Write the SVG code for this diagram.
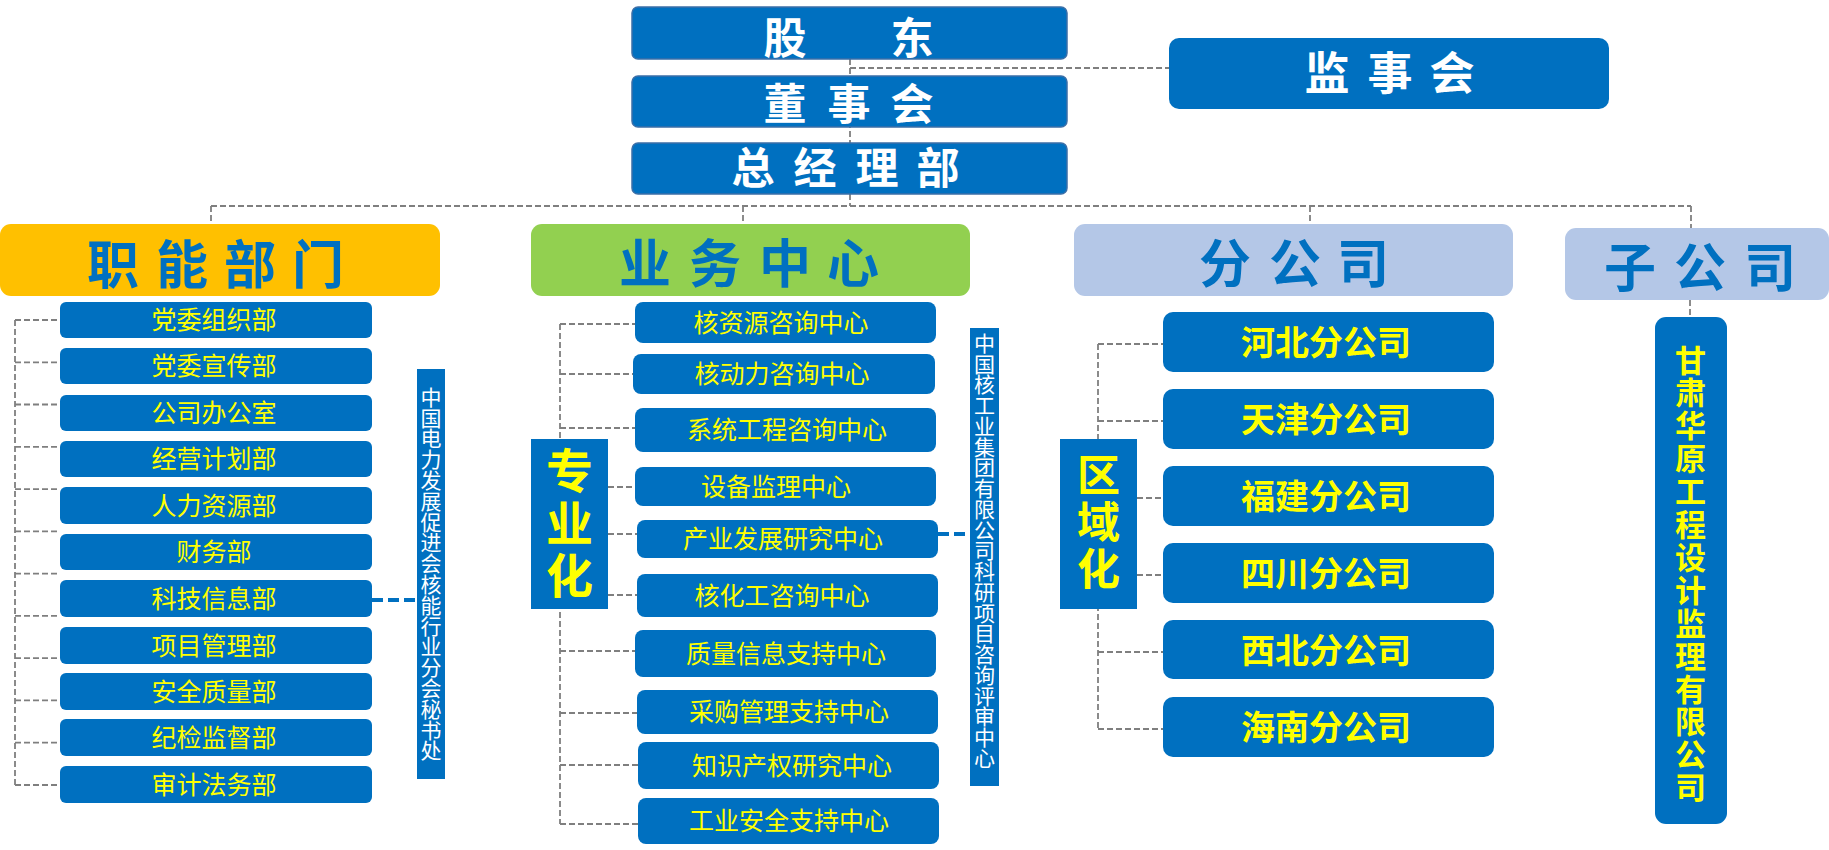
<svg xmlns="http://www.w3.org/2000/svg" width="1829" height="850" viewBox="0 0 1829 850">
<style>
text{font-family:"Noto Sans CJK SC","Noto Sans",sans-serif;}
.top{fill:#0070C0;stroke:#3B6FA8;stroke-width:1.5;}
.blue{fill:#0070C0;}
.ht{fill:#FFFFFF;font-weight:700;font-size:43px;text-anchor:middle;}
.hd{fill:#0070C0;font-weight:700;font-size:52px;text-anchor:middle;}
.sm{fill:#FFFF00;font-size:25px;text-anchor:middle;}
.br{fill:#FFFF00;font-weight:700;font-size:34px;text-anchor:middle;}
.vl{fill:#FFFFFF;font-size:21px;text-anchor:middle;}
.dash{fill:none;stroke:#7F7F7F;stroke-width:1.8;stroke-dasharray:6 3;}
.thick{fill:none;stroke:#0070C0;stroke-width:4;stroke-dasharray:11 5;}
</style>

<g id="connectors">
<path class="dash" d="M850 59V206M850 68H1169M211 206H1691M211 206V224M743 206V224M1310 206V224M1691 206V228M1690 300V317"/>
<path class="dash" d="M15 320V785M15 320H60M15 362.3H60M15 404.5H60M15 446.8H60M15 489.1H60M15 531.4H60M15 573.6H60M15 615.9H60M15 658.2H60M15 700.4H60M15 742.7H60M15 785H60"/>
<path class="dash" d="M560 324V824M560 324H635M560 374H633M560 428H635M608 487H635M608 534H637M608 595H637M560 651H635M560 713H637M560 765H638M560 824H638"/>
<path class="dash" d="M1098 344V729M1098 344H1163M1098 421H1163M1137 498H1163M1137 575H1163M1098 652H1163M1098 729H1163"/>
<path class="thick" d="M372 600H417M938 534H970"/>
</g>

<g id="gudong"><rect class="top" x="632" y="7" width="435" height="52" rx="6"/><text class="ht" x="785 912" y="54">股东</text></g>
<g id="dongshihui"><rect class="top" x="632" y="76" width="435" height="51" rx="6"/><text class="ht" x="785 849 912" y="120">董事会</text></g>
<g id="zongjinglibu"><rect class="top" x="632" y="143" width="435" height="51" rx="6"/><text class="ht" x="753 815 877 938" y="184">总经理部</text></g>
<g id="jianshihui"><rect class="blue" x="1169" y="38" width="440" height="71" rx="10"/><text class="ht" style="font-size:45px" x="1327 1390 1452" y="89.5">监事会</text></g>

<g id="zhineng"><rect x="0" y="224" width="440" height="72" rx="11" fill="#FFC000"/><text class="hd" x="113 182 250 318" y="284">职能部门</text></g>
<g id="yewu"><rect x="531" y="224" width="439" height="72" rx="11" fill="#92D050"/><text class="hd" x="645 715 785 853" y="283">业务中心</text></g>
<g id="fengongsi"><rect x="1074" y="224" width="439" height="72" rx="11" fill="#B4C7E7"/><text class="hd" x="1225 1295 1363" y="283">分公司</text></g>
<g id="zigongsi"><rect x="1565" y="228" width="264" height="72" rx="11" fill="#B4C7E7"/><text class="hd" x="1630 1700 1770" y="286.5">子公司</text></g>

<g id="d1"><rect class="blue" x="60" y="302" width="312" height="36" rx="6"/><text class="sm" x="214" y="329">党委组织部</text></g>
<g id="d2"><rect class="blue" x="60" y="348" width="312" height="36" rx="6"/><text class="sm" x="214" y="375">党委宣传部</text></g>
<g id="d3"><rect class="blue" x="60" y="395" width="312" height="36" rx="6"/><text class="sm" x="214" y="422">公司办公室</text></g>
<g id="d4"><rect class="blue" x="60" y="441" width="312" height="36" rx="6"/><text class="sm" x="214" y="468">经营计划部</text></g>
<g id="d5"><rect class="blue" x="60" y="487" width="312" height="37" rx="6"/><text class="sm" x="214" y="514.5">人力资源部</text></g>
<g id="d6"><rect class="blue" x="60" y="534" width="312" height="36" rx="6"/><text class="sm" x="214" y="561">财务部</text></g>
<g id="d7"><rect class="blue" x="60" y="580" width="312" height="37" rx="6"/><text class="sm" x="214" y="607.5">科技信息部</text></g>
<g id="d8"><rect class="blue" x="60" y="627" width="312" height="37" rx="6"/><text class="sm" x="214" y="654.5">项目管理部</text></g>
<g id="d9"><rect class="blue" x="60" y="673" width="312" height="37" rx="6"/><text class="sm" x="214" y="700.5">安全质量部</text></g>
<g id="d10"><rect class="blue" x="60" y="719" width="312" height="37" rx="6"/><text class="sm" x="214" y="746.5">纪检监督部</text></g>
<g id="d11"><rect class="blue" x="60" y="766" width="312" height="37" rx="6"/><text class="sm" x="214" y="793.5">审计法务部</text></g>

<g id="label1"><rect class="blue" x="417" y="369" width="28" height="410"/><text class="vl" x="431 431 431 431 431 431 431 431 431 431 431 431 431 431 431 431 431 431" y="404.8 425.6 446.4 467.2 488 508.8 529.6 550.4 571.2 592 612.8 633.6 654.4 675.2 696 716.8 737.6 758.4">中国电力发展促进会核能行业分会秘书处</text></g>

<g id="zhuanyehua"><rect class="blue" x="531" y="439" width="77" height="170"/><text style="fill:#FFFF00;font-weight:700;font-size:47px;text-anchor:middle" x="569.5 569.5 569.5" y="487.5 540.5 592.5">专业化</text></g>

<g id="c1"><rect class="blue" x="635" y="302" width="301" height="41" rx="8"/><text class="sm" x="781" y="331.5">核资源咨询中心</text></g>
<g id="c2"><rect class="blue" x="633" y="354" width="302" height="40" rx="8"/><text class="sm" x="782" y="383">核动力咨询中心</text></g>
<g id="c3"><rect class="blue" x="635" y="408" width="301" height="44" rx="8"/><text class="sm" x="787" y="439">系统工程咨询中心</text></g>
<g id="c4"><rect class="blue" x="635" y="467" width="301" height="39" rx="8"/><text class="sm" x="776" y="495.5">设备监理中心</text></g>
<g id="c5"><rect class="blue" x="637" y="520" width="301" height="38" rx="8"/><text class="sm" x="783" y="548">产业发展研究中心</text></g>
<g id="c6"><rect class="blue" x="637" y="574" width="301" height="43" rx="8"/><text class="sm" x="782" y="604.5">核化工咨询中心</text></g>
<g id="c7"><rect class="blue" x="635" y="630" width="301" height="47" rx="8"/><text class="sm" x="786" y="662.5">质量信息支持中心</text></g>
<g id="c8"><rect class="blue" x="637" y="690" width="301" height="44" rx="8"/><text class="sm" x="789" y="721">采购管理支持中心</text></g>
<g id="c9"><rect class="blue" x="638" y="742" width="301" height="47" rx="8"/><text class="sm" x="792" y="774.5">知识产权研究中心</text></g>
<g id="c10"><rect class="blue" x="638" y="798" width="301" height="46" rx="8"/><text class="sm" x="789" y="830">工业安全支持中心</text></g>

<g id="label2"><rect class="blue" x="970" y="328" width="29" height="458"/><text class="vl" x="984.5 984.5 984.5 984.5 984.5 984.5 984.5 984.5 984.5 984.5 984.5 984.5 984.5 984.5 984.5 984.5 984.5 984.5 984.5 984.5 984.5" y="350.8 371.55 392.3 413.05 433.8 454.55 475.3 496.05 516.8 537.55 558.3 579.05 599.8 620.55 641.3 662.05 682.8 703.55 724.3 745.05 765.8">中国核工业集团有限公司科研项目咨询评审中心</text></g>

<g id="quyuhua"><rect class="blue" x="1060" y="439" width="77" height="170"/><text style="fill:#FFFF00;font-weight:700;font-size:43px;text-anchor:middle" x="1098.5 1098.5 1098.5" y="491 538 585">区域化</text></g>

<g id="b1"><rect class="blue" x="1163" y="312" width="331" height="60" rx="10"/><text class="br" x="1326" y="354.5">河北分公司</text></g>
<g id="b2"><rect class="blue" x="1163" y="389" width="331" height="60" rx="10"/><text class="br" x="1326" y="431.5">天津分公司</text></g>
<g id="b3"><rect class="blue" x="1163" y="466" width="331" height="60" rx="10"/><text class="br" x="1326" y="508.5">福建分公司</text></g>
<g id="b4"><rect class="blue" x="1163" y="543" width="331" height="60" rx="10"/><text class="br" x="1326" y="585.5">四川分公司</text></g>
<g id="b5"><rect class="blue" x="1163" y="620" width="331" height="59" rx="10"/><text class="br" x="1326" y="662.5">西北分公司</text></g>
<g id="b6"><rect class="blue" x="1163" y="697" width="331" height="60" rx="10"/><text class="br" x="1326" y="739.5">海南分公司</text></g>

<g id="gansu"><rect class="blue" x="1655" y="317" width="72" height="507" rx="11"/><text style="fill:#FFFF00;font-weight:700;font-size:31px;text-anchor:middle" x="1690.5 1690.5 1690.5 1690.5 1690.5 1690.5 1690.5 1690.5 1690.5 1690.5 1690.5 1690.5 1690.5 1690.5" y="371.5 404.4 437.3 470.2 503.1 536 568.9 601.8 634.7 667.6 700.5 733.4 766.3 799.2">甘肃华原工程设计监理有限公司</text></g>
</svg>
